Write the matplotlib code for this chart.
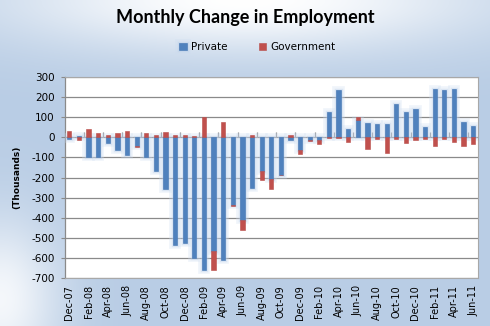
import numpy as np
import matplotlib
matplotlib.use("Agg")
import matplotlib.pyplot as plt
import matplotlib.patheffects as pe

months = ["Dec-07", "Jan-08", "Feb-08", "Mar-08", "Apr-08", "May-08", "Jun-08", "Jul-08",
          "Aug-08", "Sep-08", "Oct-08", "Nov-08", "Dec-08", "Jan-09", "Feb-09", "Mar-09",
          "Apr-09", "May-09", "Jun-09", "Jul-09", "Aug-09", "Sep-09", "Oct-09", "Nov-09",
          "Dec-09", "Jan-10", "Feb-10", "Mar-10", "Apr-10", "May-10", "Jun-10", "Jul-10",
          "Aug-10", "Sep-10", "Oct-10", "Nov-10", "Dec-10", "Jan-11", "Feb-11", "Mar-11",
          "Apr-11", "May-11", "Jun-11"]
private = [-8, 7, -97, -97, -27, -63, -87, -42, -97, -167, -257, -535, -527, -602, -658, -568,
           -610, -338, -413, -250, -168, -207, -187, -13, -62, -12, -13, 125, 233, 42, 85, 70,
           67, 67, 165, 128, 142, 53, 242, 233, 242, 77, 58]
government = [33, -13, 42, 22, 12, 22, 33, -8, 22, 12, 27, 12, 12, 7, 103, -90,
              77, -5, -50, 10, -45, -50, -2, 10, -20, -6, -18, -5, -5, -22, 18, -57,
              -7, -77, -7, -30, -13, -8, -43, -8, -22, -43, -35]
yticks = list(range(-700, 301, 100))

W, H = 490, 326
fig = plt.figure(figsize=(W / 100, H / 100), dpi=100)

# background gradient
bg = fig.add_axes([0, 0, 1, 1], zorder=-10)
xx, yy = np.meshgrid(np.linspace(0, 1, W), np.linspace(0, 1, H))
base = np.array([185, 205, 229]) / 255.0
w1 = np.exp(-((xx - 0.5) / 0.5) ** 2 - (yy / 0.16) ** 2)
w2 = 0.85 * np.exp(-(xx / 0.12) ** 2 - ((yy - 0.92) / 0.25) ** 2)
w = np.clip(np.maximum(w1, w2), 0, 1)[..., None]
img = base * (1 - w) + np.ones(3) * w
bg.imshow(img, aspect="auto", extent=[0, 1, 0, 1])
bg.axis("off")

ax = fig.add_axes([64.5 / W, 48 / H, 413.5 / W, 201 / H])
ax.set_facecolor("white")
x = np.arange(len(months))
p = np.array(private, dtype=float)
g = np.array(government, dtype=float)
g_bottom = np.where(np.sign(g) == np.sign(p), p, 0)

bw = 0.44
glow = [pe.Stroke(linewidth=5.5, foreground="#cddcf0", alpha=0.3),
        pe.Stroke(linewidth=2.5, foreground="#b4cbe8", alpha=0.35),
        pe.Normal()]
bars_p = ax.bar(x, p, width=bw, color="#4F81BD", edgecolor="#4A7AB5", linewidth=0.4,
                zorder=3, label="Private")
for b in bars_p:
    b.set_path_effects(glow)
ax.bar(x, g, width=bw, bottom=g_bottom, color="#C0504D", edgecolor="#B84C49",
       linewidth=0.4, zorder=4, label="Government")

ax.set_xlim(-0.5, len(months) - 0.5)
ax.set_ylim(-700, 300)
ax.set_yticks(yticks)
ax.set_yticklabels([str(v) for v in yticks])
ax.yaxis.grid(True, color="#8a8a8a", linewidth=0.9, zorder=0)
ax.set_axisbelow(True)
ax.tick_params(axis="y", length=3, width=0.8, color="#8a8a8a", pad=4, labelsize=7.5)
ax.set_xticks(x[::2])
ax.set_xticklabels(months[::2], rotation=90, fontsize=7)
ax.tick_params(axis="x", length=0, pad=5)

for s in ["top", "right", "bottom"]:
    ax.spines[s].set_color("#a8a8a8")
    ax.spines[s].set_linewidth(0.8)
ax.spines["left"].set_color("#8a8a8a")
ax.spines["left"].set_linewidth(0.9)

# category axis at zero with tick marks between categories
sec = ax.secondary_xaxis(0.7)
sec.set_xticks(np.arange(1.5, len(months), 2))
sec.tick_params(axis="x", length=3.5, width=0.9, color="#8a8a8a", labelbottom=False,
                labeltop=False, direction="out")
sec.spines["bottom"].set_visible(False)
sec.spines["top"].set_visible(False)

ax.set_ylabel("(Thousands)", fontsize=6.5, fontweight="bold", labelpad=6)
ax.yaxis.set_label_coords(-0.105, 0.5)

fig.text(0.5, 1 - 17 / H, "Monthly Change in Employment", ha="center", va="center",
         fontsize=13, fontweight="bold", family="Lato")

leg = fig.legend(loc="center", bbox_to_anchor=(0.525, 1 - 47 / H), ncol=2, frameon=False,
                 fontsize=7.5, handlelength=0.75, handleheight=0.75, handletextpad=0.4,
                 columnspacing=3.0)

fig.savefig("out.png", dpi=100)
